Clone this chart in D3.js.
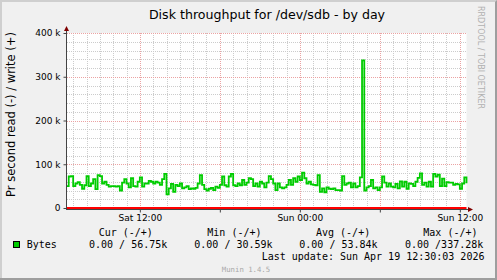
<!DOCTYPE html>
<html>
<head>
<meta charset="utf-8">
<script src="https://cdn.jsdelivr.net/npm/d3@7"></script>
<style>
  html, body { margin: 0; padding: 0; background: #f0f0f0; }
  svg { display: block; }
  text { font-family: "DejaVu Sans", sans-serif; fill: #000; }
  .mono { font-family: "DejaVu Sans Mono", monospace; white-space: pre; }
</style>
</head>
<body>
<div id="root"></div>
<script>
// ---- data ----
const title = "Disk throughput for /dev/sdb - by day";
const yLabel = "Pr second read (-) / write (+)";
const startTime = new Date(2026, 3, 18, 6, 30);
const endTime = new Date(2026, 3, 19, 12, 30);
const stepMinutes = 10;

// write, k bytes per second, one sample every 10 minutes (read is 0 all day)
const writeK = [
  50, 72, 73, 50, 56, 59, 53, 44, 52, 73, 50, 56, 66, 43, 75, 73, 56, 60, 53, 49, 50, 50, 49, 50, 40, 58, 66, 56, 47, 68, 50, 49,
  60, 70, 49, 56, 56, 62, 60, 56, 60, 58, 53, 66, 78, 31, 45, 55, 37, 53, 50, 56, 45, 47, 50, 43, 45, 44, 46, 56, 75, 53, 43,
  40, 44, 46, 41, 49, 46, 53, 72, 52, 49, 72, 78, 52, 50, 56, 52, 64, 53, 58, 68, 66, 50, 56, 49, 60, 56, 47, 58, 73, 66,
  56, 41, 56, 47, 45, 47, 53, 64, 53, 68, 60, 72, 64, 81, 68, 56, 60, 54, 53, 52, 75, 37, 45, 36, 47, 44, 43, 45, 41, 41, 40,
  73, 53, 56, 58, 47, 56, 47, 50, 70, 337.28, 40, 47, 50, 64, 45, 47, 41, 47, 72, 58, 49, 56, 49, 47, 55, 45, 61, 49, 60, 44,
  56, 55, 50, 60, 69, 79, 53, 58, 49, 60, 49, 78, 72, 76, 50, 67, 50, 59, 58, 58, 53, 55, 54, 44, 56, 70, 56.75
];

const yTicks = [0, 100000, 200000, 300000, 400000];
const seriesName = "Bytes";
const legendCols = ["Cur (-/+)", "Min (-/+)", "Avg (-/+)", "Max (-/+)"];
const readStats = [0, 0, 0, 0];
const writeStats = [56.75, 30.59, 53.84, 337.28];
const lastUpdate = "Last update: Sun Apr 19 12:30:03 2026";
const footer = "Munin 1.4.5";
const sideText = "RRDTOOL / TOBI OETIKER";

// ---- chart ----
const width = 497;
const height = 280;

const svg = d3.select("#root")
  .append("svg")
    .attr("width", width)
    .attr("height", height);

// fondo + marco estilo rrdtool
svg.append("rect")
  .attr("width", width).attr("height", height)
  .attr("fill", "#f0f0f0");
svg.append("path")
  .attr("d", `M0,${height} V0 H${width} V2 H2 V${height - 2} H0 Z`)
  .attr("fill", "#cfcfcf");
svg.append("path")
  .attr("d", `M${width},0 V${height} H0 V${height - 2} H${width - 2} V2 Z`)
  .attr("fill", "#9e9e9e");

const x = d3.scaleTime()
  .domain([startTime, endTime])
  .range([66.5, 466.5]);

const y = d3.scaleLinear()
  .domain([0, 400000])
  .range([208, 33]);

const points = writeK.map((v, i) => ({
  t: d3.timeMinute.offset(startTime, i * stepMinutes),
  v: v * 1000
}));

// area de dibujo
svg.append("rect")
  .attr("x", x.range()[0])
  .attr("y", y(400000))
  .attr("width", x.range()[1] - x.range()[0])
  .attr("height", y(0) - y(400000))
  .attr("fill", "#fff");

// rejilla
const grid = svg.append("g").attr("shape-rendering", "crispEdges");
const snap = v => Math.round(v) + 0.5;

const minorY = d3.range(0, 400001, 20000).filter(v => v % 100000 !== 0);
const minorX = d3.timeHour.range(startTime, endTime).filter(d => d.getHours() % 6 !== 0);
const majorX = d3.timeHour.every(6).range(startTime, endTime);

grid.selectAll(".hminor").data(minorY).enter().append("line")
  .attr("x1", x.range()[0]).attr("x2", x.range()[1])
  .attr("y1", d => snap(y(d))).attr("y2", d => snap(y(d)))
  .attr("stroke", "#cccccc").attr("stroke-dasharray", "1,1");
grid.selectAll(".vminor").data(minorX).enter().append("line")
  .attr("x1", d => snap(x(d))).attr("x2", d => snap(x(d)))
  .attr("y1", y(400000)).attr("y2", y(0))
  .attr("stroke", "#cccccc").attr("stroke-dasharray", "1,1");
grid.selectAll(".hmajor").data(yTicks).enter().append("line")
  .attr("x1", x.range()[0]).attr("x2", x.range()[1])
  .attr("y1", d => snap(y(d))).attr("y2", d => snap(y(d)))
  .attr("stroke", "#eba3a3").attr("stroke-dasharray", "1,1");
grid.selectAll(".vmajor").data(majorX).enter().append("line")
  .attr("x1", d => snap(x(d))).attr("x2", d => snap(x(d)))
  .attr("y1", y(400000)).attr("y2", y(0))
  .attr("stroke", "#eba3a3").attr("stroke-dasharray", "1,1");

// serie write
const lineCreator = d3.line()
  .x(d => x(d.t))
  .y(d => y(d.v))
  .curve(d3.curveStepAfter);

svg.append("path")
  .datum(points)
    .attr("d", lineCreator)
    .attr("fill", "none")
    .attr("stroke", "#00cc00")
    .attr("stroke-width", 1.8);

// linea de cero (read)
svg.append("line")
  .attr("x1", x.range()[0]).attr("x2", x.range()[1])
  .attr("y1", y(0)).attr("y2", y(0))
  .attr("stroke", "#ff0000").attr("stroke-width", 2);

// ejes
const axisColor = "#444";
const arrowColor = "#7f0000";

const yAxis = svg.append("g")
  .attr("transform", `translate(${x.range()[0]},0)`)
  .call(d3.axisLeft(y)
    .tickValues(yTicks)
    .tickSize(3)
    .tickPadding(3)
    .tickFormat(d => d === 0 ? "0" : `${d / 1000} k`));
yAxis.select(".domain").remove();
yAxis.selectAll("line").attr("stroke", axisColor);
yAxis.selectAll("text")
  .attr("font-family", "DejaVu Sans")
  .attr("font-size", 9)
  .attr("fill", "#000");

const xAxis = svg.append("g")
  .attr("transform", `translate(0,${y(0) + 1.5})`)
  .call(d3.axisBottom(x)
    .tickValues(majorX)
    .tickSize(3)
    .tickPadding(2.5)
    .tickFormat(d => d.getHours() % 12 === 0 ? d3.timeFormat("%a %H:%M")(d) : ""));
xAxis.select(".domain").remove();
xAxis.selectAll("line").attr("stroke", axisColor);
xAxis.selectAll("text")
  .attr("font-family", "DejaVu Sans")
  .attr("font-size", 9)
  .attr("fill", "#000");

svg.append("line")
  .attr("x1", x.range()[0]).attr("x2", x.range()[0])
  .attr("y1", y(0) + 2).attr("y2", y(400000) - 5)
  .attr("stroke", axisColor).attr("shape-rendering", "crispEdges");
svg.append("line")
  .attr("x1", x.range()[0]).attr("x2", x.range()[1] + 3)
  .attr("y1", y(0) + 1.5).attr("y2", y(0) + 1.5)
  .attr("stroke", axisColor).attr("shape-rendering", "crispEdges");
svg.append("path")
  .attr("d", d3.line()([[x.range()[0] - 2.5, y(400000) - 2], [x.range()[0] + 2.5, y(400000) - 2], [x.range()[0], y(400000) - 7]]))
  .attr("fill", arrowColor);
svg.append("path")
  .attr("d", d3.line()([[x.range()[1] + 1.5, y(0) - 1], [x.range()[1] + 1.5, y(0) + 4], [x.range()[1] + 6.5, y(0) + 1.5]]))
  .attr("fill", arrowColor);

// titulos
svg.append("text")
  .text(title)
  .attr("x", 267).attr("y", 18.5)
  .attr("text-anchor", "middle")
  .attr("font-size", 12.6);

svg.append("text")
  .text(yLabel)
  .attr("transform", `translate(15, ${(y(0) + y(400000)) / 2 - 6})rotate(-90)`)
  .attr("text-anchor", "middle")
  .attr("font-size", 11.5);

svg.append("text")
  .text(sideText)
  .attr("transform", "translate(477.5, 6)rotate(90)")
  .attr("font-size", 8)
  .style("fill", "#b0b0b0");

// leyenda
const legend = svg.append("g").attr("class", "mono").attr("font-size", 10);
const headerX = [98.7, 207.3, 316, 423.3];
const valueX = [89, 194.3, 299.3, 405];

legend.selectAll(".hdr").data(legendCols).enter().append("text")
  .attr("class", "mono")
  .attr("x", (d, i) => headerX[i]).attr("y", 236)
  .text(d => d);

legend.selectAll(".val").data(writeStats).enter().append("text")
  .attr("class", "mono")
  .attr("x", (d, i) => valueX[i]).attr("y", 248)
  .text((d, i) => `${readStats[i].toFixed(2)} /${(d.toFixed(2) + "k").padStart(7, " ")}`);

legend.append("rect")
  .attr("x", 13.5).attr("y", 241.5)
  .attr("width", 6).attr("height", 6)
  .attr("fill", "#00cc00").attr("stroke", "#000")
  .attr("shape-rendering", "crispEdges");
legend.append("text")
  .attr("class", "mono")
  .attr("x", 26.7).attr("y", 248)
  .text(seriesName);

legend.append("text")
  .attr("class", "mono")
  .attr("x", 261.7).attr("y", 260)
  .text(lastUpdate);

svg.append("text")
  .attr("class", "mono")
  .attr("x", 246).attr("y", 272)
  .attr("text-anchor", "middle")
  .attr("font-size", 7.3)
  .style("fill", "#a8a8a8")
  .text(footer);
</script>
</body>
</html>
